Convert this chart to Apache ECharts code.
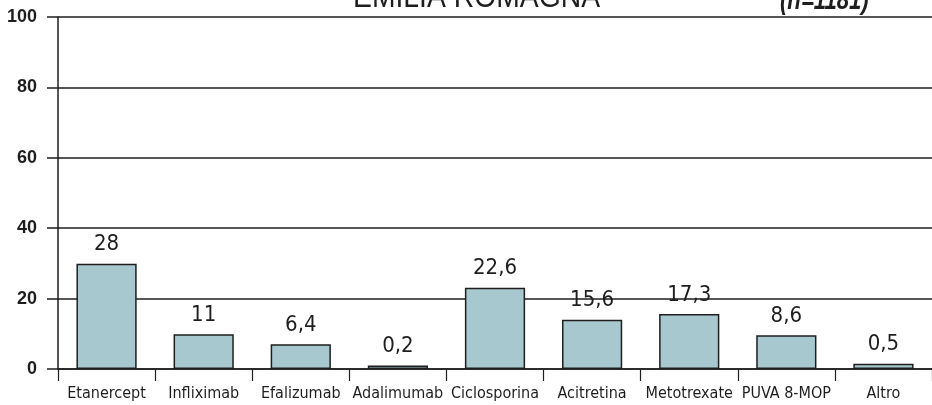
<!DOCTYPE html>
<html>
<head>
<meta charset="utf-8">
<script src="https://cdn.jsdelivr.net/npm/echarts@6/dist/echarts.min.js"></script>
<style>
  html, body { margin: 0; padding: 0; background: #fff; }
  #chart { width: 932px; height: 405px; }
</style>
</head>
<body>
<div id="chart"></div>
<script>
  // categorie
  var farmaci = ['Etanercept', 'Infliximab', 'Efalizumab', 'Adalimumab', 'Ciclosporina', 'Acitretina', 'Metotrexate', 'PUVA 8-MOP', 'Altro'];
  // altezza delle barre come disegnate nel grafico
  var altezze = [29.9, 9.9, 7.0, 1.0, 23.1, 14.0, 15.6, 9.6, 1.5];
  // valori stampati sopra le barre
  var valori = [28, 11, 6.4, 0.2, 22.6, 15.6, 17.3, 8.6, 0.5];
  var yTicks = [0, 20, 40, 60, 80, 100];

  var narrow = "'DejaVu Sans Condensed', 'Liberation Sans Narrow', sans-serif";
  var ink = '#1e1e1e';

  var myChart = echarts.init(document.getElementById('chart'));
  myChart.setOption({
    animation: false,
    backgroundColor: '#fff',
    graphic: [
      {
        type: 'text', x: 353, y: -18, scaleX: 0.885,
        style: { text: 'EMILIA ROMAGNA', font: "32px 'Liberation Sans', Arial, sans-serif", fill: ink }
      },
      {
        type: 'text', x: 780, y: -13, scaleX: 0.79,
        style: { text: '(n=1181)', font: "italic bold 28px 'Liberation Sans', Arial, sans-serif", fill: ink }
      }
    ],
    grid: {
      left: 58,
      right: -6,
      top: 17,
      bottom: 36
    },
    xAxis: {
      type: 'category',
      data: farmaci,
      axisLine: { lineStyle: { color: ink, width: 1.5 } },
      axisTick: { show: true, length: 12, lineStyle: { color: ink, width: 1.2 } },
      axisLabel: { color: ink, fontSize: 16, fontFamily: narrow, margin: 17, interval: 0 }
    },
    yAxis: {
      type: 'value',
      min: yTicks[0],
      max: yTicks[yTicks.length - 1],
      interval: 20,
      axisLine: { show: true, lineStyle: { color: ink, width: 1.5 } },
      axisTick: { show: true, length: 11, lineStyle: { color: ink, width: 1.5 } },
      axisLabel: { color: ink, fontSize: 18, fontWeight: 'bold', fontFamily: "'Liberation Sans', Arial, sans-serif", margin: 21 },
      splitLine: { lineStyle: { color: ink, width: 1.5 } }
    },
    series: [
      {
        type: 'bar',
        data: altezze,
        barWidth: '62%',
        itemStyle: { color: '#a7c8cf', borderColor: ink, borderWidth: 1.5 },
        label: {
          show: true,
          position: 'top',
          distance: 8,
          color: ink,
          fontSize: 22,
          fontFamily: narrow,
          formatter: function (p) { return String(valori[p.dataIndex]).replace('.', ','); }
        }
      }
    ]
  });
</script>
</body>
</html>
